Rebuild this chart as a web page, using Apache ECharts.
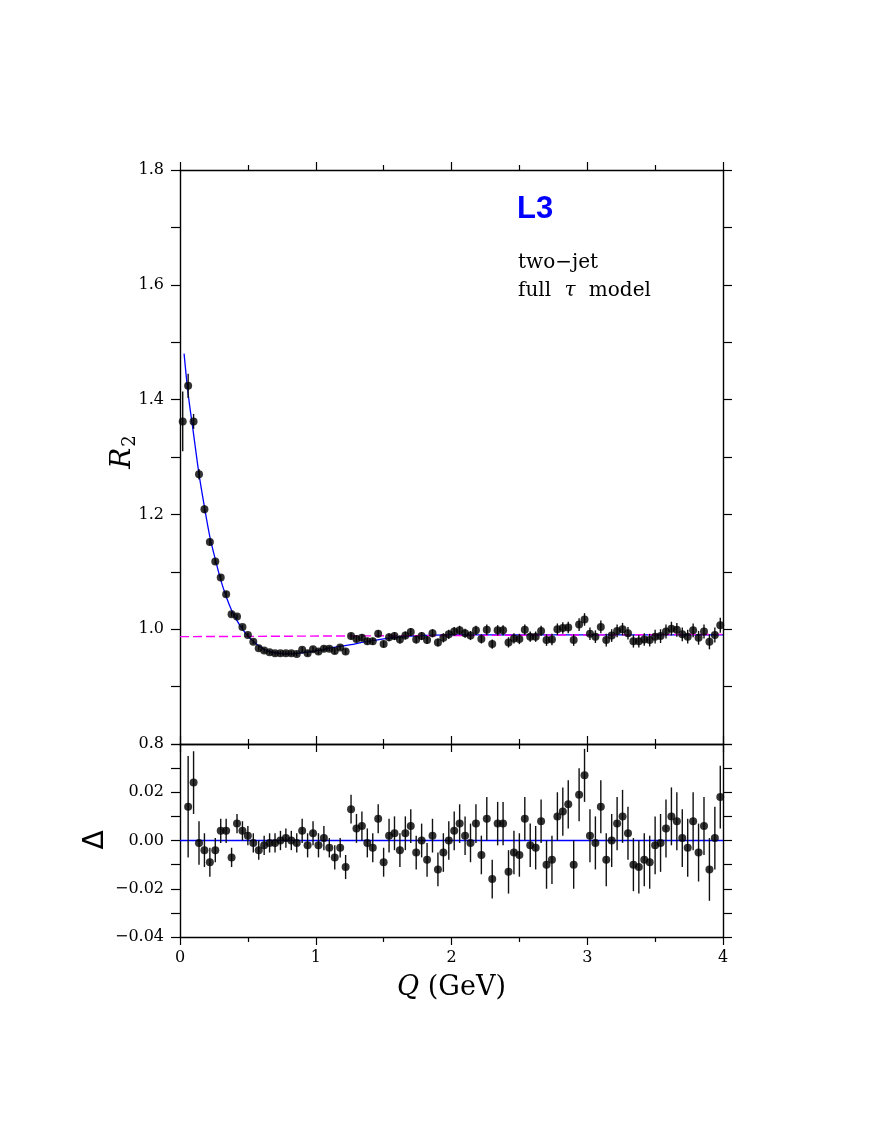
<!DOCTYPE html>
<html>
<head>
<meta charset="utf-8">
<script src="https://cdn.jsdelivr.net/npm/echarts@6/dist/echarts.min.js"></script>
<style>
  html, body { margin: 0; padding: 0; background: #fff; }
  #main { width: 871px; height: 1127px; }
</style>
</head>
<body>
<div id="main"></div>
<script>
// bin centres in Q (GeV)
const qBins = [0.02,0.06,0.10,0.14,0.18,0.22,0.26,0.30,0.34,0.38,
  0.42,0.46,0.50,0.54,0.58,0.62,0.66,0.70,0.74,0.78,
  0.82,0.86,0.90,0.94,0.98,1.02,1.06,1.10,1.14,1.18,
  1.22,1.26,1.30,1.34,1.38,1.42,1.46,1.50,1.54,1.58,
  1.62,1.66,1.70,1.74,1.78,1.82,1.86,1.90,1.94,1.98,
  2.02,2.06,2.10,2.14,2.18,2.22,2.26,2.30,2.34,2.38,
  2.42,2.46,2.50,2.54,2.58,2.62,2.66,2.70,2.74,2.78,
  2.82,2.86,2.90,2.94,2.98,3.02,3.06,3.10,3.14,3.18,
  3.22,3.26,3.30,3.34,3.38,3.42,3.46,3.50,3.54,3.58,
  3.62,3.66,3.70,3.74,3.78,3.82,3.86,3.90,3.94,3.98];

// measured R2
const r2Values = [1.362,1.424,1.362,1.270,1.209,1.152,1.118,1.090,1.061,1.026,
  1.022,1.004,0.990,0.978,0.967,0.963,0.960,0.958,0.958,0.958,
  0.958,0.957,0.964,0.958,0.965,0.961,0.966,0.966,0.962,0.968,
  0.961,0.988,0.983,0.985,0.979,0.979,0.992,0.974,0.986,0.988,
  0.982,0.989,0.995,0.982,0.988,0.981,0.993,0.977,0.985,0.991,
  0.996,0.998,0.993,0.989,0.998,0.983,0.999,0.974,0.998,0.998,
  0.977,0.984,0.983,0.999,0.987,0.987,0.997,0.981,0.982,1.000,
  1.002,1.003,0.981,1.008,1.017,0.992,0.987,1.004,0.981,0.989,
  0.997,1.000,0.993,0.979,0.979,0.982,0.981,0.987,0.988,0.996,
  1.001,0.999,0.991,0.987,0.998,0.985,0.996,0.978,0.990,1.007];

// residuals (first bin is off scale)
const deltaValues = [null,0.014,0.024,-0.001,-0.004,-0.009,-0.004,0.004,0.004,-0.007,
  0.007,0.004,0.002,-0.001,-0.004,-0.002,-0.001,-0.001,0.000,0.001,
  0.000,-0.001,0.004,-0.002,0.003,-0.002,0.001,-0.003,-0.007,-0.003,
  -0.011,0.013,0.005,0.006,-0.001,-0.003,0.009,-0.009,0.002,0.003,
  -0.004,0.003,0.006,-0.005,0.000,-0.008,0.002,-0.012,-0.005,0.000,
  0.004,0.007,0.002,-0.001,0.007,-0.006,0.009,-0.016,0.007,0.007,
  -0.013,-0.005,-0.006,0.009,-0.002,-0.003,0.008,-0.010,-0.008,0.010,
  0.012,0.015,-0.010,0.019,0.027,0.002,-0.001,0.014,-0.008,0.000,
  0.007,0.010,0.003,-0.010,-0.011,-0.008,-0.009,-0.002,-0.001,0.005,
  0.010,0.008,0.001,-0.003,0.008,-0.005,0.006,-0.012,0.001,0.018];

// error bar half-lengths
const errValues = [0.052,0.021,0.013,0.009,0.007,0.006,0.005,0.005,0.005,0.004,
  0.004,0.004,0.004,0.004,0.004,0.004,0.004,0.004,0.004,0.004,
  0.004,0.004,0.005,0.005,0.005,0.005,0.005,0.004,0.005,0.004,
  0.005,0.006,0.006,0.006,0.006,0.006,0.006,0.006,0.007,0.007,
  0.007,0.007,0.007,0.007,0.007,0.007,0.007,0.007,0.008,0.008,
  0.008,0.008,0.008,0.008,0.008,0.008,0.009,0.008,0.009,0.009,
  0.009,0.009,0.009,0.009,0.009,0.009,0.009,0.010,0.010,0.010,
  0.010,0.010,0.010,0.011,0.011,0.011,0.011,0.011,0.011,0.011,
  0.011,0.011,0.011,0.011,0.011,0.011,0.011,0.012,0.012,0.012,
  0.012,0.012,0.012,0.012,0.012,0.012,0.012,0.013,0.013,0.013];

// full tau model fit
const fitQ = [0.03,0.06,0.10,0.14,0.18,0.22,0.26,0.30,0.34,0.38,0.42,0.46,0.50,0.54,0.58,0.62,0.66,0.70,
  0.78,0.86,0.94,1.02,1.10,1.18,1.26,1.34,1.42,1.50,1.60,1.70,1.80,2.00,2.50,3.00,3.50,4.00];
const fitR2 = [1.480,1.410,1.340,1.270,1.213,1.161,1.122,1.086,1.057,1.033,1.015,1.000,0.988,0.979,0.971,0.965,0.961,0.959,
  0.957,0.958,0.960,0.963,0.967,0.970,0.973,0.977,0.980,0.983,0.986,0.988,0.989,0.990,0.990,0.990,0.990,0.990];

// long-range part (dashed)
const longQ = [0, 4];
const longR2 = [0.987, 0.991];

// zero line of the residual panel
const zeroQ = [0, 4];
const zeroD = [0, 0];

const xTicks = { interval: 1, min: 0, max: 4 };
const r2Ticks = { interval: 0.2, min: 0.8, max: 1.8 };
const dTicks = { interval: 0.02, min: -0.04, max: 0.04 };

const serif = 'DejaVu Serif';
const frame = { show: true, onZero: false, lineStyle: { color: '#000', width: 1.4 } };

function pairs(xs, ys) {
  const out = [];
  for (let i = 0; i < xs.length; i++) {
    if (ys[i] !== null) out.push([xs[i], ys[i]]);
  }
  return out;
}
function triples(xs, ys, es) {
  const out = [];
  for (let i = 0; i < xs.length; i++) {
    if (ys[i] !== null) out.push([xs[i], ys[i], es[i]]);
  }
  return out;
}

function errBar(params, api) {
  const x = api.value(0), y = api.value(1), e = api.value(2);
  const a = api.coord([x, y - e]);
  const b = api.coord([x, y + e]);
  return {
    type: 'line',
    shape: { x1: a[0], y1: a[1], x2: b[0], y2: b[1] },
    style: { stroke: '#111', lineWidth: 1.4 }
  };
}

function xAxis(grid, pos, labels) {
  return {
    type: 'value', gridIndex: grid, position: pos,
    min: xTicks.min, max: xTicks.max, interval: xTicks.interval,
    axisLine: frame,
    axisTick: { show: true, inside: false, length: 8, lineStyle: { color: '#000', width: 1.2 } },
    minorTick: { show: true, splitNumber: 2, length: 5, lineStyle: { color: '#000', width: 1.2 } },
    splitLine: { show: false },
    axisLabel: labels ? {
      show: true, margin: 13, color: '#000', fontFamily: serif, fontSize: 16,
      formatter: v => String(Math.round(v))
    } : { show: false }
  };
}

function yAxis(grid, pos, t, labels, fmt) {
  return {
    type: 'value', gridIndex: grid, position: pos,
    min: t.min, max: t.max, interval: t.interval,
    axisLine: frame,
    axisTick: { show: true, inside: false, length: 9, lineStyle: { color: '#000', width: 1.2 } },
    minorTick: { show: true, splitNumber: 2, length: 9, lineStyle: { color: '#000', width: 1.2 } },
    splitLine: { show: false },
    axisLabel: labels ? {
      show: true, margin: 16, color: '#000', fontFamily: serif, fontSize: 16,
      showMinLabel: true, showMaxLabel: true, formatter: fmt
    } : { show: false }
  };
}

const chart = echarts.init(document.getElementById('main'));

const axisX = [
  xAxis(0, 'bottom', false),
  xAxis(0, 'top', false),
  xAxis(1, 'bottom', true),
  xAxis(1, 'top', false)
];
axisX[2].name = '{i|Q} (GeV)';
axisX[2].nameLocation = 'middle';
axisX[2].nameGap = 37;
axisX[2].nameTextStyle = {
  fontFamily: serif, fontSize: 27, color: '#000',
  rich: { i: { fontFamily: serif, fontStyle: 'italic', fontSize: 27, color: '#000' } }
};

const axisY = [
  yAxis(0, 'left', r2Ticks, true, v => v.toFixed(1)),
  yAxis(0, 'right', r2Ticks, false),
  yAxis(1, 'left', dTicks, true, v => {
    if (Math.abs(v - 0.04) < 1e-9) return '';
    const s = Math.abs(v).toFixed(2);
    return v < -1e-9 ? '\u2212' + s : s;
  }),
  yAxis(1, 'right', dTicks, false)
];

chart.setOption({
  backgroundColor: '#fff',
  animation: false,
  grid: [
    { left: 180, top: 170, width: 543, height: 574 },
    { left: 180, top: 744, width: 543, height: 193 }
  ],
  xAxis: axisX,
  yAxis: axisY,
  graphic: [
    { type: 'text', x: 517, y: 209,
      style: { text: 'L3', font: 'bold 31px "Liberation Sans"', fill: '#0000ff',
               align: 'left', verticalAlign: 'middle' } },
    { type: 'text', x: 518, y: 263,
      style: { text: 'two\u2212jet', font: '20px "DejaVu Serif"', fill: '#000',
               align: 'left', verticalAlign: 'middle' } },
    { type: 'text', x: 518, y: 291,
      style: { text: 'full {t|\u03c4} model', font: '20px "DejaVu Serif"', fill: '#000',
               align: 'left', verticalAlign: 'middle',
               rich: { t: { font: 'italic 20px "DejaVu Serif"', fill: '#000', padding: [0, 7, 0, 7] } } } },
    // axis titles of the two panels, read bottom to top
    { type: 'text', x: 123, y: 452, rotation: Math.PI / 2,
      style: { text: '{i|R}{s|2}', fill: '#000', align: 'center', verticalAlign: 'middle',
               rich: {
                 i: { font: 'italic 28px "DejaVu Serif"', fill: '#000' },
                 s: { font: '18px "DejaVu Serif"', fill: '#000', padding: [14, 0, 0, 1] }
               } } },
    { type: 'text', x: 96, y: 840, rotation: Math.PI / 2,
      style: { text: '\u0394', font: '28px "DejaVu Sans"', fill: '#000',
               align: 'center', verticalAlign: 'middle' } }
  ],
  series: [
    {
      type: 'line', xAxisIndex: 0, yAxisIndex: 0,
      data: pairs(fitQ, fitR2), showSymbol: false, smooth: 0.3, z: 2,
      lineStyle: { color: '#0000ff', width: 1.3 }
    },
    {
      type: 'line', xAxisIndex: 0, yAxisIndex: 0,
      data: pairs(longQ, longR2), showSymbol: false, z: 3,
      lineStyle: { color: '#ff00ff', width: 1.4, type: [9, 4] }
    },
    {
      type: 'custom', xAxisIndex: 0, yAxisIndex: 0,
      data: triples(qBins, r2Values, errValues), renderItem: errBar,
      encode: { x: 0, y: 1 }, clip: true, z: 4
    },
    {
      type: 'scatter', xAxisIndex: 0, yAxisIndex: 0,
      data: pairs(qBins, r2Values), symbolSize: 8, z: 5,
      itemStyle: { color: '#000' }
    },
    {
      type: 'line', xAxisIndex: 2, yAxisIndex: 2,
      data: pairs(zeroQ, zeroD), showSymbol: false, z: 2,
      lineStyle: { color: '#0000ff', width: 1.3 }
    },
    {
      type: 'custom', xAxisIndex: 2, yAxisIndex: 2,
      data: triples(qBins, deltaValues, errValues), renderItem: errBar,
      encode: { x: 0, y: 1 }, clip: true, z: 4
    },
    {
      type: 'scatter', xAxisIndex: 2, yAxisIndex: 2,
      data: pairs(qBins, deltaValues), symbolSize: 8, z: 5,
      itemStyle: { color: '#000' }
    }
  ]
});
</script>
</body>
</html>
